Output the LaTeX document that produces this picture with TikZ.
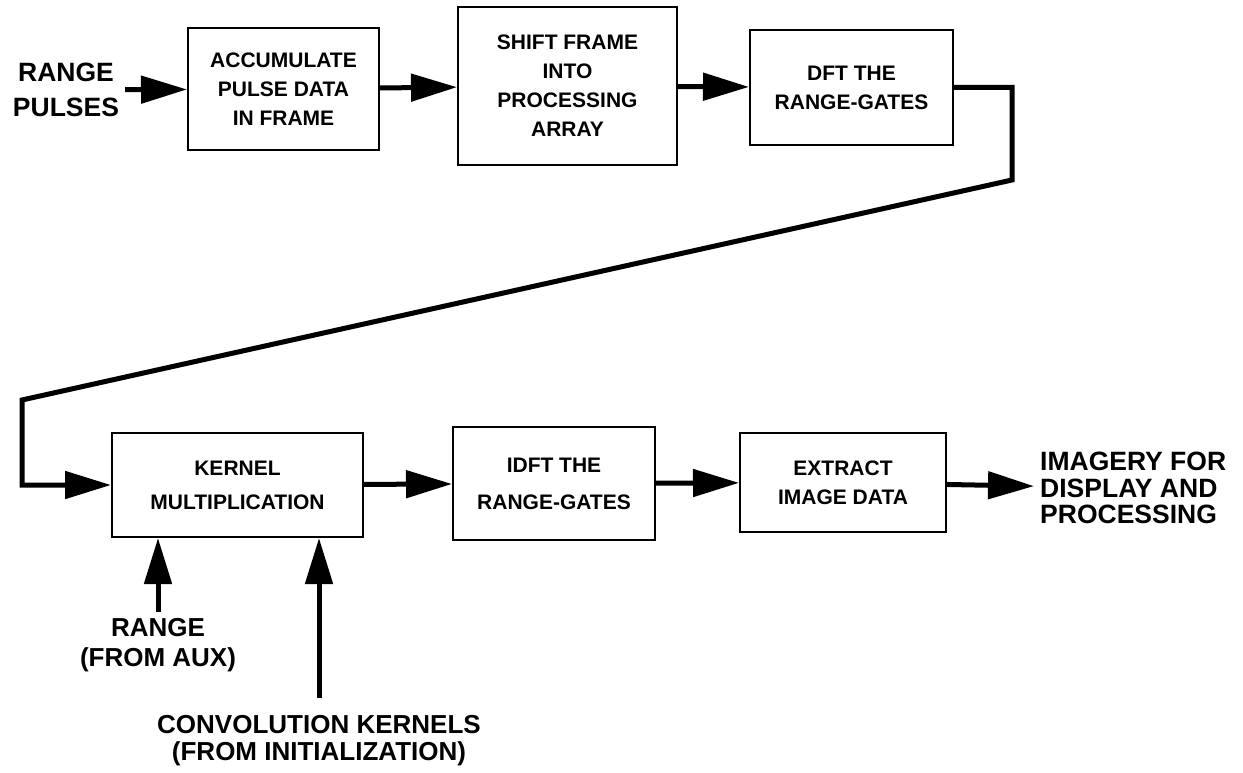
\documentclass[tikz,border=0pt]{standalone}
\usepackage{fontspec}
\setmainfont{Liberation Sans}
\usetikzlibrary{arrows.meta}

\begin{document}
\begin{tikzpicture}[x=1pt,y=-1pt]
    \tikzset{%
      blk/.style={rectangle, draw, line width=2pt, inner sep=0pt,
        align=center, font=\fontsize{21}{29}\selectfont\bfseries},
      lbl/.style={inner sep=6pt, align=center,
        font=\fontsize{26.5}{33}\selectfont\bfseries},
      flow/.style={line width=5pt, -{Triangle[length=46pt,width=27pt]}},
    }
    \useasboundingbox (0,0) rectangle (1243,773);

    % top row
    \node[lbl] (pulses) at (66,90) {RANGE\\[2pt]PULSES};
    \node[blk, minimum width=191pt, minimum height=122pt] (acc)
      at (283.5,89) {ACCUMULATE\\PULSE DATA\\IN FRAME};
    \node[blk, minimum width=219pt, minimum height=158pt] (shift)
      at (567.5,86) {SHIFT FRAME\\INTO\\PROCESSING\\ARRAY};
    \node[blk, minimum width=203pt, minimum height=115pt] (dft)
      at (851.5,87.5) {DFT THE\\RANGE-GATES};
    \draw [flow] (pulses) -- (acc);
    \draw [flow] (acc) -- (shift);
    \draw [flow] (shift) -- (dft);

    % return line
    \coordinate (R1) at (1012,180);
    \coordinate (L1) at (22,400);

    % bottom row
    \node[blk, minimum width=251pt, minimum height=104pt] (kern)
      at (237.5,485) {KERNEL\\[5pt]MULTIPLICATION};
    \node[blk, minimum width=202pt, minimum height=113pt] (idft)
      at (554,483.5) {IDFT THE\\[8pt]RANGE-GATES};
    \node[blk, minimum width=206pt, minimum height=99pt] (extr)
      at (843,482.5) {EXTRACT\\IMAGE DATA};
    \node[lbl, anchor=west, align=left, font=\fontsize{26.5}{26.5}\selectfont\bfseries]
      (imagery) at (1034,488) {IMAGERY FOR\\DISPLAY AND\\PROCESSING};
    \draw [flow] (dft.east) -| (R1) -- (L1) |- (kern.west);
    \draw [flow] (kern) -- (idft);
    \draw [flow] (idft) -- (extr);
    \draw [flow] (extr) -- (imagery);

    % inputs from below
    \node[lbl, font=\fontsize{26}{30}\selectfont\bfseries] (rng)
      at (158,645) {RANGE\\(FROM AUX)};
    \node[lbl, inner ysep=18pt, font=\fontsize{26}{27}\selectfont\bfseries] (conv)
      at (319,741) {CONVOLUTION KERNELS\\(FROM INITIALIZATION)};
    \draw [flow] (rng.north) -- (rng.north |- kern.south);
    \draw [flow] (conv.north) -- (conv.north |- kern.south);
  \end{tikzpicture}
\end{document}
